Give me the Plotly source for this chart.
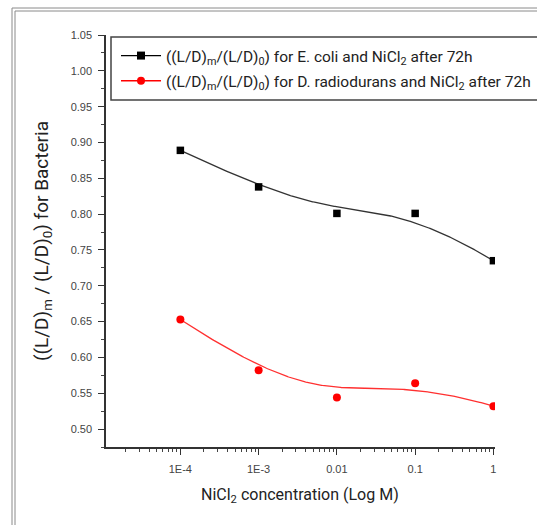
import numpy as np
import plotly.graph_objects as go

# ---- data ----
conc = [1e-4, 1e-3, 1e-2, 1e-1, 1.0]
tick_text = ["1E-4", "1E-3", "0.01", "0.1", "1"]
ecoli = [0.889, 0.838, 0.801, 0.801, 0.735]
drad = [0.653, 0.582, 0.544, 0.564, 0.532]

name_ecoli = "((L/D)<sub>m</sub>/(L/D)<sub>0</sub>) for E. coli and NiCl<sub>2</sub> after 72h"
name_drad = "((L/D)<sub>m</sub>/(L/D)<sub>0</sub>) for D. radiodurans and NiCl<sub>2</sub> after 72h"

FONT = "Roboto, Liberation Sans, sans-serif"
TICKFONT = "Liberation Sans, Arial, sans-serif"


def bspline(px_, py_, n=300, k=3):
    """Clamped B-spline using the data points as control points (Origin-style B-spline)."""
    m = len(px_)
    inner = list(range(1, m - k))
    knots = np.array([0] * (k + 1) + inner + [m - k] * (k + 1), dtype=float)
    t = np.linspace(0, m - k, n)
    t[-1] -= 1e-9

    def N(i, p, tt):
        if p == 0:
            return np.where((knots[i] <= tt) & (tt < knots[i + 1]), 1.0, 0.0)
        a = 0.0
        d1 = knots[i + p] - knots[i]
        if d1 > 0:
            a = (tt - knots[i]) / d1 * N(i, p - 1, tt)
        b = 0.0
        d2 = knots[i + p + 1] - knots[i + 1]
        if d2 > 0:
            b = (knots[i + p + 1] - tt) / d2 * N(i + 1, p - 1, tt)
        return a + b

    basis = np.array([N(i, k, t) for i in range(m)])
    return basis.T @ np.asarray(px_, float), basis.T @ np.asarray(py_, float)


lx = np.log10(conc)
bx_e, by_e = bspline(lx, ecoli)
bx_d, by_d = bspline(lx, drad)

fig = go.Figure()
fig.add_trace(go.Scatter(x=10 ** bx_e, y=by_e, mode="lines", line=dict(color="#333333", width=1.3),
                         showlegend=False, hoverinfo="skip"))
fig.add_trace(go.Scatter(x=10 ** bx_d, y=by_d, mode="lines", line=dict(color="#ff3030", width=1.3),
                         showlegend=False, hoverinfo="skip"))
fig.add_trace(go.Scatter(x=conc, y=ecoli, mode="markers",
                         marker=dict(symbol="square", size=7.5, color="black"), showlegend=False))
fig.add_trace(go.Scatter(x=conc, y=drad, mode="markers",
                         marker=dict(symbol="circle", size=8, color="#ff0000"), showlegend=False))
# legend entries
fig.add_trace(go.Scatter(x=[None], y=[None], mode="lines+markers", name=name_ecoli,
                         legendgroup="a",
                         line=dict(color="black", width=1.3),
                         marker=dict(symbol="square", size=8, color="black")))
fig.add_trace(go.Scatter(x=[None], y=[None], mode="lines+markers", name=name_drad,
                         legendgroup="b",
                         line=dict(color="#ff0000", width=1.3),
                         marker=dict(symbol="circle", size=8, color="#ff0000")))

L, R, T, B = 106, 42, 35, 78
W, H = 537, 525
pw, ph = W - L - R, H - T - B


def px(x):
    return (x - L) / pw


def py(y):
    return (H - B - y) / ph


shapes = []
# outer double frame
for off in (0, 3):
    shapes.append(dict(type="rect", xref="paper", yref="paper",
                       x0=px(12 + off), x1=px(560), y0=py(560), y1=py(8 + off),
                       line=dict(color="#8a8a8a", width=1), layer="below"))
# legend box
shapes.append(dict(type="rect", xref="paper", yref="paper",
                   x0=px(111), x1=px(560), y0=py(100), y1=py(37),
                   line=dict(color="#444444", width=1.5), fillcolor="white", layer="below"))

fig.update_layout(
    width=W, height=H,
    margin=dict(l=L, r=R, t=T, b=B, autoexpand=False),
    paper_bgcolor="white", plot_bgcolor="rgba(0,0,0,0)",
    shapes=shapes,
    showlegend=True,
    legend=dict(xref="container", yref="container", x=116 / W, y=1 - 39 / H,
                xanchor="left", yanchor="top",
                bgcolor="rgba(0,0,0,0)", borderwidth=0,
                font=dict(family=FONT, size=15.5, color="#222222"),
                traceorder="grouped", tracegroupgap=2, itemwidth=40),
    xaxis=dict(type="log", range=[-4.95, 0.02], tickvals=conc, ticktext=tick_text,
               showline=True, linecolor="#333333", linewidth=1.5,
               ticks="outside", ticklen=6, tickcolor="#333333", tickwidth=1,
               minor=dict(ticks="outside", ticklen=3, tickcolor="#444444", dtick="D1", showgrid=False),
               showgrid=False, zeroline=False, ticklabelstandoff=5,
               tickfont=dict(family=TICKFONT, size=11, color="#444444")),
    yaxis=dict(range=[0.475, 1.05], tickvals=[0.50 + 0.05 * i for i in range(12)], tickformat=".2f",
               showline=True, linecolor="#333333", linewidth=1.5,
               ticks="outside", ticklen=6, tickcolor="#333333", tickwidth=1,
               minor=dict(ticks="outside", ticklen=3, tickcolor="#444444", dtick=0.025, tick0=0.5, showgrid=False),
               showgrid=False, zeroline=False, ticklabelstandoff=4,
               tickfont=dict(family=TICKFONT, size=11, color="#444444")),
    annotations=[
        dict(text="((L/D)<sub>m</sub> / (L/D)<sub>0</sub>) for Bacteria", xref="paper", yref="paper",
             x=px(42), y=py(241), xanchor="center", yanchor="middle", textangle=-90, showarrow=False,
             font=dict(family=FONT, size=19, color="#222222")),
        dict(text="NiCl<sub>2</sub> concentration (Log M)", xref="paper", yref="paper",
             x=px(300), y=py(495), xanchor="center", yanchor="middle", showarrow=False,
             font=dict(family=FONT, size=16, color="#222222")),
    ],
)

fig.write_html("out.html")
